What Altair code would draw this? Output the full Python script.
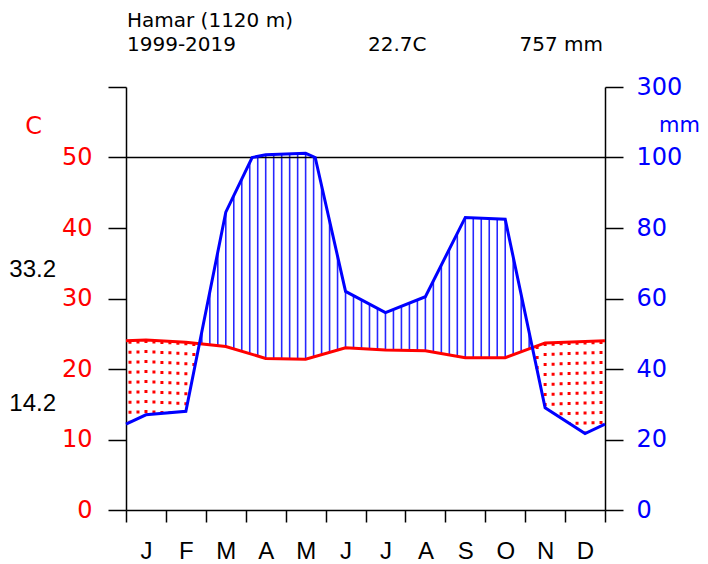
import altair as alt
import numpy as np
import pandas as pd

# ---- data ----
months = ['J', 'F', 'M', 'A', 'M', 'J', 'J', 'A', 'S', 'O', 'N', 'D']
temp_c = [24.1, 23.8, 23.2, 21.5, 21.4, 23.0, 22.7, 22.6, 21.6, 21.6, 23.7, 23.9]
precip_mm = [27.0, 28.0, 84.5, 108.0, 112.0, 62.0, 56.0, 60.5, 83.0, 82.5, 29.0, 21.7]
header = ["Hamar (1120 m)", "1999-2019", "22.7C", "757 mm"]
t_extremes = [33.2, 14.2]
left_ticks = [0, 10, 20, 30, 40, 50, 60]

FONT = "DejaVu Sans"
RED = "#ff0000"
BLUE = "#0000ff"


def to_scale(mm):
    # Walter-Lieth: 1 C = 2 mm up to 100 mm, then 1 C = 20 mm
    return mm / 2.0 if mm <= 100 else 50.0 + (mm - 100.0) / 20.0


# extended series at month centres, edges = mean of Dec and Jan
xs = [0.0] + [i + 0.5 for i in range(12)] + [12.0]
t_edge = (temp_c[0] + temp_c[-1]) / 2
p_edge = (precip_mm[0] + precip_mm[-1]) / 2
t_ext = [t_edge] + temp_c + [t_edge]
p_ext = [p_edge] + precip_mm + [p_edge]

temp_df = pd.DataFrame({"x": xs, "v": t_ext})

# precip line, with points where it crosses 100 mm so the scale change bends it
px, pv = [], []
for i in range(len(xs)):
    if i > 0:
        a, b = p_ext[i - 1], p_ext[i]
        if (a - 100) * (b - 100) < 0:
            f = (100 - a) / (b - a)
            px.append(xs[i - 1] + f * (xs[i] - xs[i - 1]))
            pv.append(50.0)
    px.append(xs[i])
    pv.append(to_scale(p_ext[i]))
prec_df = pd.DataFrame({"x": px, "v": pv})

# hatching grid
grid = np.arange(0.1, 12.0, 0.2)
t_g = np.interp(grid, xs, t_ext)
p_g = np.array([to_scale(m) for m in np.interp(grid, xs, p_ext)])
hatch = pd.DataFrame({"x": grid, "t": t_g, "p": p_g})
humid_df = hatch[hatch.p > hatch.t]
dry_df = hatch[hatch.t > hatch.p]

ref_df = pd.DataFrame({"x": [0.0], "x2": [12.0], "v": [50.0]})
ext_df = pd.DataFrame({"v": t_extremes, "label": [f"{v:.1f}" for v in t_extremes]})

# ---- scales / axes ----
xs_scale = alt.Scale(domain=[0, 12], nice=False, zero=False)
ys_scale = alt.Scale(domain=[0, 60], nice=False, zero=False)

month_arr = "[" + ",".join(f"'{m}'" for m in months) + "]"
x_axis = alt.Axis(
    values=[i * 0.5 for i in range(25)],
    labelExpr=f"datum.value % 1 == 0.5 ? {month_arr}[floor(datum.value)] : ''",
    tickOpacity={"condition": {"test": "datum.value % 1 != 0", "value": 0}, "value": 1},
    tickSize=12, tickWidth=1.5, tickColor="black",
    domainColor="black", domainWidth=1.5,
    labelFont="Liberation Sans", labelFontSize=24, labelColor="black", labelPadding=17,
    labelOverlap=False, labelFlush=False, grid=False, title=None,
)


def X(field):
    return alt.X(field, type="quantitative", scale=xs_scale, axis=x_axis)


left_axis = alt.Axis(
    orient="left", values=left_ticks,
    labelExpr="datum.value == 60 ? '' : datum.label",
    labelColor=RED, labelFont=FONT, labelFontSize=24, labelPadding=16,
    tickSize=18, tickWidth=1.5, tickColor="black",
    domainColor="black", domainWidth=1.5, grid=False,
    title="C", titleAngle=0, titleColor=RED, titleFont=FONT, titleFontSize=24,
    titleFontWeight="normal", titleX=-93, titleY=39,
    titleAlign="center", titleBaseline="middle",
)
right_axis = alt.Axis(
    orient="right", values=left_ticks,
    labelExpr="datum.value <= 50 ? format(datum.value * 2, 'd') : format(100 + (datum.value - 50) * 20, 'd')",
    labelColor=BLUE, labelFont=FONT, labelFontSize=24, labelPadding=13,
    tickSize=18, tickWidth=1.5, tickColor="black",
    domainColor="black", domainWidth=1.5, grid=False,
    title="mm", titleAngle=0, titleColor=BLUE, titleFont=FONT, titleFontSize=21,
    titleFontWeight="normal", titleX=74, titleY=38,
    titleAlign="center", titleBaseline="middle",
)

# ---- layers ----
humid = alt.Chart(humid_df).mark_rule(color=BLUE, strokeWidth=1.6, opacity=0.85).encode(
    x=X("x"), y=alt.Y("t:Q", scale=ys_scale, axis=None), y2="p:Q"
)
dry = alt.Chart(dry_df).mark_rule(
    color=RED, strokeWidth=3, strokeDash=[3, 7], strokeCap="butt"
).encode(x=X("x"), y=alt.Y("t:Q", scale=ys_scale, axis=None), y2="p:Q")

ref = alt.Chart(ref_df).mark_rule(color="black", strokeWidth=1.5).encode(
    x=X("x"), x2="x2:Q", y=alt.Y("v:Q", scale=ys_scale, axis=None)
)

temp_line = alt.Chart(temp_df).mark_line(color=RED, strokeWidth=3).encode(
    x=X("x"), y=alt.Y("v:Q", scale=ys_scale, axis=left_axis)
)
prec_line = alt.Chart(prec_df).mark_line(color=BLUE, strokeWidth=3).encode(
    x=X("x"), y=alt.Y("v:Q", scale=ys_scale, axis=right_axis)
)

ext_text = alt.Chart(ext_df).mark_text(
    font="Liberation Sans", fontSize=24, color="black", align="right",
    baseline="middle", dy=-6
).encode(x=alt.value(-70), y=alt.Y("v:Q", scale=ys_scale, axis=None), text="label:N")

HFS = 20
h1 = alt.Chart().mark_text(text=header[0], font=FONT, fontSize=HFS, color="black",
                           align="left", baseline="alphabetic").encode(
    x=alt.value(1), y=alt.value(-60))
h2 = alt.Chart().mark_text(text=header[1], font=FONT, fontSize=HFS, color="black",
                           align="left", baseline="alphabetic").encode(
    x=alt.value(1), y=alt.value(-36))
h3 = alt.Chart().mark_text(text=header[2], font=FONT, fontSize=HFS, color="black",
                           align="left", baseline="alphabetic").encode(
    x=alt.value(242), y=alt.value(-36))
h4 = alt.Chart().mark_text(text=header[3], font=FONT, fontSize=HFS, color="black",
                           align="right", baseline="alphabetic").encode(
    x=alt.value(477), y=alt.value(-36))

chart = alt.layer(
    humid, dry, ref, temp_line, prec_line, ext_text, h1, h2, h3, h4
).resolve_scale(y="independent").properties(
    width=479, height=423,
    autosize=alt.AutoSizeParams(type="none"),
    padding={"left": 118, "top": 79, "right": 95, "bottom": 56},
).configure_view(stroke=None)

chart.save("out.html", embed_options={"renderer": "svg", "actions": False})
